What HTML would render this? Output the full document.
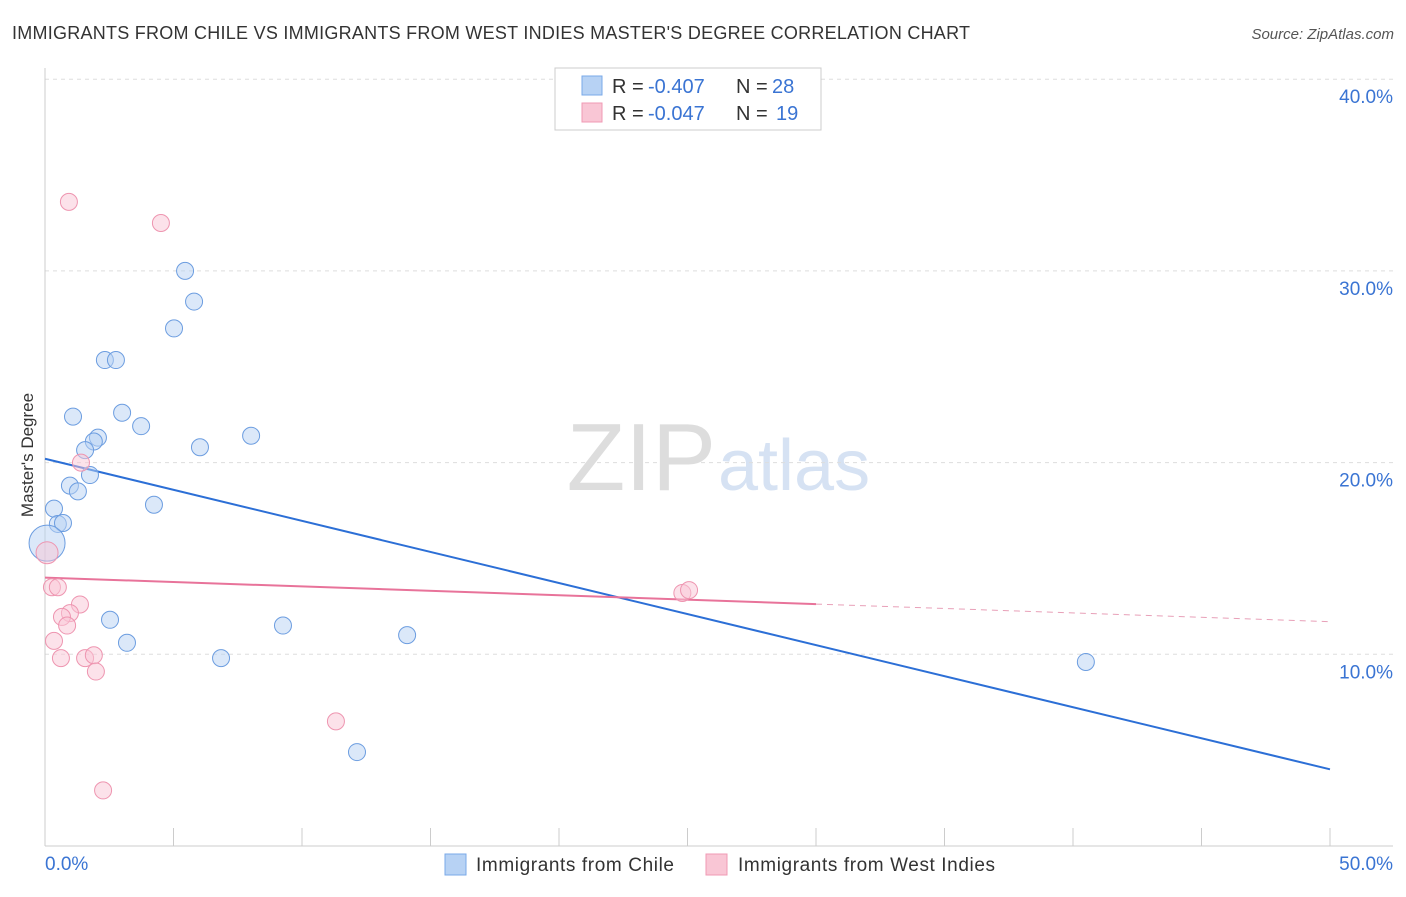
<!DOCTYPE html>
<html><head><meta charset="utf-8"><style>
body{margin:0;background:#fff;font-family:"Liberation Sans",sans-serif;}
svg text{font-family:"Liberation Sans",sans-serif;}
</style></head><body>
<svg width="1406" height="892" xmlns="http://www.w3.org/2000/svg" id="chart">
<text x="12" y="39" font-size="18" fill="#333" textLength="958">IMMIGRANTS FROM CHILE VS IMMIGRANTS FROM WEST INDIES MASTER'S DEGREE CORRELATION CHART</text>
<text x="1394" y="39" font-size="15" fill="#555" font-style="italic" text-anchor="end">Source: ZipAtlas.com</text>
<text x="716" y="490" font-size="96" fill="#ddd" text-anchor="end" font-family="Liberation Serif">ZIP</text>
<text x="718" y="490" font-size="72" fill="#d6e2f3">atlas</text>
<text transform="translate(33,455) rotate(-90)" font-size="17" fill="#333" text-anchor="middle">Master's Degree</text>
<g id="grid"></g><g id="axes"></g><g id="lines"></g><g id="pts"></g>
<g>
<rect x="555" y="68" width="266" height="62" fill="#fff" stroke="#ccc"/>
<rect x="582" y="76" width="20" height="19" fill="#b7d2f4" stroke="#7aa9e8"/>
<rect x="582" y="103" width="20" height="19" fill="#f9c6d5" stroke="#f09ab4"/>
<text x="612" y="93" font-size="20" fill="#333">R =</text>
<text x="648" y="93" font-size="20" fill="#3a74d3">-0.407</text>
<text x="736" y="93" font-size="20" fill="#333">N =</text>
<text x="772" y="93" font-size="20" fill="#3a74d3">28</text>
<text x="612" y="120" font-size="20" fill="#333">R =</text>
<text x="648" y="120" font-size="20" fill="#3a74d3">-0.047</text>
<text x="736" y="120" font-size="20" fill="#333">N =</text>
<text x="776" y="120" font-size="20" fill="#3a74d3">19</text>
</g>
<g>
<rect x="445" y="854" width="21" height="21" fill="#b7d2f4" stroke="#7aa9e8"/>
<text x="476" y="871" font-size="19" fill="#333" textLength="198">Immigrants from Chile</text>
<rect x="706" y="854" width="21" height="21" fill="#f9c6d5" stroke="#f09ab4"/>
<text x="738" y="871" font-size="19" fill="#333" textLength="257">Immigrants from West Indies</text>
</g>
</svg>
<script>
const yTicks=[10,20,30,40];
const xTickLabels=["0.0%","50.0%"];
const chileX=[5.45,5.8,5.02,2.33,2.76,1.09,3.0,3.74,8.02,2.06,1.9,1.56,6.03,0.97,1.28,1.75,4.24,0.35,0.5,0.7,0.08,2.53,3.19,6.85,9.26,14.09,12.14,40.5];
const chileY=[30.0,28.4,27.0,25.35,25.35,22.4,22.6,21.9,21.4,21.3,21.1,20.65,20.8,18.8,18.5,19.35,17.8,17.6,16.8,16.85,15.8,11.8,10.6,9.8,11.5,11.0,4.9,9.6];
const wiX=[0.93,4.51,1.4,0.08,0.27,0.5,1.36,0.97,0.66,0.86,0.35,0.62,1.56,1.9,1.98,11.32,2.26,24.8,25.06];
const wiY=[33.6,32.5,20.0,15.3,13.5,13.5,12.6,12.15,11.95,11.5,10.7,9.8,9.8,9.95,9.1,6.5,2.9,13.2,13.35];
const chileTrend=[20.2,4.0];
const wiTrend=[14.0,11.7];
const wiSolidEnd=30;
const X=v=>45+v/50*1285, Y=v=>846-v*19.17;
const NS="http://www.w3.org/2000/svg";
function mk(t,a,p){const e=document.createElementNS(NS,t);for(const k in a)e.setAttribute(k,a[k]);document.getElementById(p).appendChild(e);return e;}
yTicks.forEach(v=>{
 const l=mk('line',{x1:45,x2:1393,y1:Y(v),y2:Y(v),stroke:'#ddd','stroke-dasharray':'4,4'},'grid');
 
 
 const t=mk('text',{x:1393,y:Y(v)+24,'font-size':19,fill:'#3a74d3','text-anchor':'end'},'grid');
 t.textContent=v.toFixed(1)+'%';
 
 
});
const ax=mk('line',{x1:45,x2:1393,y1:846,y2:846,stroke:'#ccc'},'axes');


const ay=mk('line',{x1:45,x2:45,y1:68,y2:846,stroke:'#ccc'},'axes');


for(let i=0;i<=10;i++){const t=mk('line',{x1:X(i*5),x2:X(i*5),y1:828,y2:846,stroke:'#ccc'},'axes');
 
 }
const l0=mk('text',{x:45,y:870,'font-size':19,fill:'#3a74d3'},'axes');l0.textContent=xTickLabels[0];


const l1=mk('text',{x:1393,y:870,'font-size':19,fill:'#3a74d3','text-anchor':'end'},'axes');l1.textContent=xTickLabels[1];


function dot(x,y,r,f,s,n){const c=mk('circle',{cx:X(x),cy:Y(y),r:r,fill:f,stroke:s,'stroke-width':1,'fill-opacity':0.5},'pts');
 
 }
chileX.forEach((x,i)=>dot(x,chileY[i],i==20?18:8.5,'#b7d2f4','#6c9de0','point-chile'));
wiX.forEach((x,i)=>dot(x,wiY[i],i==3?11:8.5,'#f9c6d5','#ee95b0','point-west-indies'));
const bl=mk('line',{x1:X(0),y1:Y(chileTrend[0]),x2:X(50),y2:Y(chileTrend[1]),stroke:'#2c6fd6','stroke-width':2},'lines');


const wm=wiTrend[0]+(wiTrend[1]-wiTrend[0])*wiSolidEnd/50;
const pl=mk('line',{x1:X(0),y1:Y(wiTrend[0]),x2:X(wiSolidEnd),y2:Y(wm),stroke:'#e8739a','stroke-width':2},'lines');


const pd=mk('line',{x1:X(wiSolidEnd),y1:Y(wm),x2:X(50),y2:Y(wiTrend[1]),stroke:'#e8a0b8','stroke-width':1,'stroke-dasharray':'6,5'},'lines');


</script>
</body></html>
